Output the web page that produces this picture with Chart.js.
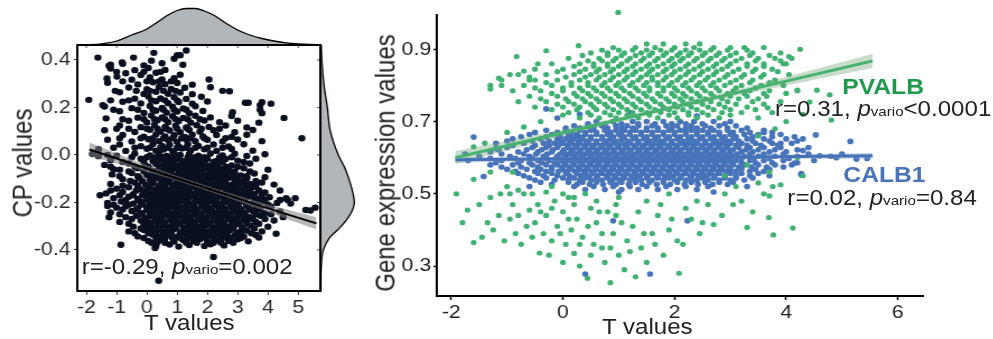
<!DOCTYPE html>
<html>
<head>
<meta charset="utf-8">
<script src="https://cdn.jsdelivr.net/npm/chart.js@4.4.1/dist/chart.umd.min.js"></script>
<style>
    html, body { margin: 0; padding: 0; background: #fff; overflow: hidden; }
    #stage { position: absolute; left: 0; top: 0; width: 887px; height: 339px; transform: scaleX(1.12); transform-origin: 0 0; font-family: "Liberation Sans", Arial, sans-serif; color: #222; }
    canvas { position: absolute; }
    .t { position: absolute; white-space: nowrap; line-height: 1; }
    .ann { font-size: 21.5px; color: #222; }
    .s { font-size: 13.5px; }
    .lab { font-size: 22px; font-weight: bold; }
    .ttl { font-size: 21.5px; color: #222; transform: translateX(-50%); }
    .rot { font-size: 24px; color: #222; transform: translate(-50%, -50%) rotate(-90deg); }
</style>
</head>
<body>
<div id="stage">
    <canvas id="topDens" width="217" height="45" style="left:69px;top:0"></canvas>
    <canvas id="sideDens" width="38" height="246" style="left:286px;top:45px"></canvas>
    <canvas id="cpChart" width="300" height="339" style="left:0;top:0"></canvas>
    <canvas id="geneChart" width="561" height="339" style="left:326px;top:0"></canvas>

    <div class="t rot" style="left:20px;top:163px">CP values</div>
    <div class="t ttl" style="left:169px;top:313px">T values</div>
    <div class="t ann" style="left:73px;top:257px">r=-0.29, <i>p</i><span class="s">vario</span>=0.002</div>

    <div class="t rot" style="left:344px;top:163px">Gene expression values</div>
    <div class="t ttl" style="left:578px;top:317px">T values</div>
    <div class="t lab" style="left:752px;top:76px;color:#1f9a4b">PVALB</div>
    <div class="t ann" style="left:692px;top:99px">r=0.31, <i>p</i><span class="s">vario</span>&lt;0.0001</div>
    <div class="t lab" style="left:753px;top:164px;color:#4a74b9">CALB1</div>
    <div class="t ann" style="left:703px;top:188px">r=0.02, <i>p</i><span class="s">vario</span>=0.84</div>
</div>
<script>
// left panel: T values vs CP values
const tTicks = [-2, -1, 0, 1, 2, 3, 4, 5];
const cpTicks = [-0.4, -0.2, 0, 0.2, 0.4];

const cpPoints = [
    [0.3,-0.384],[0.75,-0.377],[1.05,-0.386],[1.4,-0.379],[1.9,-0.383],[2.1,-0.376],[2.55,-0.381],[-0.86,-0.378],[0.27,-0.392],
    [0.05,-0.362],[0.5,-0.356],[0.9,-0.365],[1.2,-0.358],[1.55,-0.363],[1.75,-0.355],[2.0,-0.366],[2.3,-0.359],[2.7,-0.362],[3.0,-0.355],[3.35,-0.364],[0.35,-0.368],
    [-0.3,-0.343],[0.2,-0.336],[0.45,-0.345],[0.7,-0.338],[1.0,-0.344],[1.3,-0.335],[1.5,-0.346],[1.85,-0.339],[2.15,-0.342],[2.4,-0.336],[2.6,-0.345],[2.9,-0.338],[3.2,-0.343],[3.6,-0.337],[3.7,-0.348],[4.27,-0.332],
    [-0.6,-0.322],[-0.1,-0.316],[0.15,-0.325],[0.35,-0.318],[0.6,-0.324],[0.85,-0.315],[1.1,-0.326],[1.35,-0.319],[1.6,-0.323],[1.8,-0.316],[2.05,-0.325],[2.3,-0.317],[2.5,-0.324],[2.75,-0.316],[3.0,-0.326],[3.3,-0.318],[3.8,-0.322],
    [-0.45,-0.302],[0.0,-0.296],[0.25,-0.305],[0.5,-0.298],[0.75,-0.304],[0.95,-0.295],[1.2,-0.306],[1.45,-0.299],[1.7,-0.303],[1.95,-0.296],[2.2,-0.305],[2.45,-0.297],[2.65,-0.304],[2.9,-0.296],[3.15,-0.306],[3.45,-0.298],[4.0,-0.302],
    [-0.9,-0.282],[-0.2,-0.276],[0.1,-0.285],[0.35,-0.278],[0.6,-0.284],[0.85,-0.275],[1.05,-0.286],[1.3,-0.279],[1.55,-0.283],[1.8,-0.276],[2.05,-0.285],[2.3,-0.277],[2.55,-0.284],[2.8,-0.276],[3.05,-0.286],[3.3,-0.278],[3.6,-0.282],[4.2,-0.276],[4.5,-0.262],
    [-0.7,-0.262],[-0.35,-0.256],[0.0,-0.265],[0.2,-0.258],[0.45,-0.264],[0.7,-0.255],[0.95,-0.266],[1.15,-0.259],[1.4,-0.263],[1.65,-0.256],[1.9,-0.265],[2.15,-0.257],[2.4,-0.264],[2.6,-0.256],[2.85,-0.266],[3.1,-0.258],[3.4,-0.262],[3.75,-0.256],[-1.25,-0.262],
    [-1.2,-0.242],[-0.5,-0.236],[-0.15,-0.245],[0.1,-0.238],[0.35,-0.244],[0.55,-0.235],[0.8,-0.246],[1.05,-0.239],[1.3,-0.243],[1.5,-0.236],[1.75,-0.245],[2.0,-0.237],[2.25,-0.244],[2.5,-0.236],[2.7,-0.246],[2.95,-0.238],[3.2,-0.242],[3.5,-0.236],[3.9,-0.245],[4.4,-0.238],
    [-1.0,-0.222],[-0.7,-0.216],[-0.3,-0.225],[0.0,-0.218],[0.25,-0.224],[0.45,-0.215],[0.7,-0.226],[0.9,-0.219],[1.15,-0.223],[1.4,-0.216],[1.6,-0.225],[1.85,-0.217],[2.1,-0.224],[2.35,-0.216],[2.55,-0.226],[2.8,-0.218],[3.05,-0.222],[3.3,-0.216],[3.6,-0.225],[4.1,-0.218],[4.75,-0.205],[5.56,-0.222],[5.25,-0.232],[5.4,-0.234],[-1.3,-0.215],
    [-1.3,-0.202],[-0.85,-0.196],[-0.45,-0.205],[-0.15,-0.198],[0.1,-0.204],[0.35,-0.195],[0.6,-0.206],[0.8,-0.199],[1.05,-0.203],[1.25,-0.196],[1.5,-0.205],[1.75,-0.197],[1.95,-0.204],[2.2,-0.196],[2.45,-0.206],[2.7,-0.198],[2.9,-0.202],[3.15,-0.196],[3.45,-0.205],[3.8,-0.198],[4.3,-0.202],[4.9,-0.182],[4.65,-0.19],
    [-1.1,-0.182],[-0.6,-0.176],[-0.3,-0.185],[0.0,-0.178],[0.2,-0.184],[0.45,-0.175],[0.7,-0.186],[0.95,-0.179],[1.2,-0.183],[1.4,-0.176],[1.65,-0.185],[1.9,-0.177],[2.1,-0.184],[2.35,-0.176],[2.6,-0.186],[2.85,-0.178],[3.05,-0.182],[3.35,-0.176],[3.7,-0.185],[4.05,-0.178],[4.6,-0.182],[-1.55,-0.17],
    [-1.35,-0.162],[-0.8,-0.156],[-0.45,-0.165],[-0.1,-0.158],[0.15,-0.164],[0.4,-0.155],[0.6,-0.166],[0.85,-0.159],[1.1,-0.163],[1.3,-0.156],[1.55,-0.165],[1.8,-0.157],[2.0,-0.164],[2.25,-0.156],[2.5,-0.166],[2.75,-0.158],[3.0,-0.162],[3.25,-0.156],[3.55,-0.165],[3.9,-0.158],
    [-1.0,-0.142],[-0.6,-0.136],[-0.2,-0.145],[0.05,-0.138],[0.3,-0.144],[0.55,-0.135],[0.75,-0.146],[1.0,-0.139],[1.25,-0.143],[1.45,-0.136],[1.7,-0.145],[1.95,-0.137],[2.15,-0.144],[2.4,-0.136],[2.65,-0.146],[2.9,-0.138],[3.2,-0.142],[3.5,-0.136],[4.2,-0.125],
    [-1.2,-0.122],[-0.4,-0.116],[-0.05,-0.125],[0.2,-0.118],[0.45,-0.124],[0.7,-0.115],[0.9,-0.126],[1.15,-0.119],[1.4,-0.123],[1.6,-0.116],[1.85,-0.125],[2.1,-0.117],[2.3,-0.124],[2.55,-0.116],[2.8,-0.126],[3.1,-0.118],[3.4,-0.122],[3.8,-0.116],
    [-0.8,-0.102],[-0.25,-0.096],[0.1,-0.105],[0.35,-0.098],[0.6,-0.104],[0.8,-0.095],[1.05,-0.106],[1.3,-0.099],[1.55,-0.103],[1.75,-0.096],[2.0,-0.105],[2.25,-0.097],[2.5,-0.104],[2.7,-0.096],[3.0,-0.106],[3.3,-0.098],[3.9,-0.094],
    [-1.15,-0.082],[-0.5,-0.076],[0.0,-0.085],[0.25,-0.078],[0.5,-0.084],[0.75,-0.075],[1.0,-0.086],[1.2,-0.079],[1.45,-0.083],[1.7,-0.076],[1.95,-0.085],[2.2,-0.077],[2.45,-0.084],[2.75,-0.076],[3.1,-0.086],[3.55,-0.078],
    [-0.9,-0.062],[-0.3,-0.056],[0.15,-0.065],[0.4,-0.058],[0.65,-0.064],[0.9,-0.055],[1.15,-0.066],[1.4,-0.059],[1.65,-0.063],[1.9,-0.056],[2.15,-0.065],[2.4,-0.057],[2.7,-0.064],[3.2,-0.056],[4.0,-0.062],
    [-1.4,-0.042],[-0.6,-0.036],[-0.05,-0.045],[0.3,-0.038],[0.55,-0.044],[0.8,-0.035],[1.05,-0.046],[1.3,-0.039],[1.55,-0.043],[1.8,-0.036],[2.05,-0.045],[2.35,-0.037],[2.8,-0.044],[3.4,-0.036],[-1.1,-0.06],
    [-1.2,-0.022],[-0.2,-0.016],[0.2,-0.025],[0.45,-0.018],[0.7,-0.024],[1.0,-0.015],[1.2,-0.026],[1.5,-0.019],[1.75,-0.023],[2.0,-0.016],[2.3,-0.025],[2.6,-0.017],[3.0,-0.024],[3.6,-0.016],[-1.6,-0.005],
    [-1.8,0.004],[-1.0,-0.003],[-0.4,0.006],[0.1,-0.002],[0.4,0.005],[0.65,-0.004],[0.9,0.007],[1.1,0.0],[1.4,0.004],[1.7,-0.003],[2.1,0.006],[2.5,-0.002],[2.9,0.005],[3.3,-0.004],[3.9,0.003],[-1.3,0.0],
    [-1.6,0.024],[-0.7,0.017],[0.0,0.026],[0.3,0.018],[0.55,0.023],[0.85,0.016],[1.15,0.027],[1.45,0.019],[1.9,0.024],[2.3,0.017],[2.8,0.025],[3.5,0.018],
    [-0.9,0.044],[-0.2,0.037],[0.2,0.046],[0.5,0.038],[0.75,0.043],[1.05,0.036],[1.35,0.045],[1.7,0.038],[2.2,0.044],[2.7,0.036],[3.2,0.045],
    [-1.3,0.064],[-0.5,0.057],[0.05,0.066],[0.4,0.058],[0.7,0.063],[1.0,0.056],[1.3,0.065],[1.6,0.058],[2.0,0.064],[2.5,0.057],[3.0,0.065],[3.8,0.058],[5.12,0.07],
    [-0.8,0.084],[-0.1,0.077],[0.3,0.086],[0.6,0.078],[0.9,0.083],[1.25,0.076],[1.5,0.085],[1.85,0.078],[2.3,0.084],[2.8,0.076],[3.3,0.085],
    [-1.4,0.104],[-0.4,0.097],[0.1,0.106],[0.45,0.098],[0.75,0.103],[1.1,0.096],[1.4,0.105],[1.75,0.098],[2.2,0.104],[2.9,0.096],[3.5,0.105],
    [-0.9,0.124],[-0.2,0.117],[0.25,0.126],[0.6,0.118],[0.95,0.123],[1.3,0.116],[1.65,0.125],[2.05,0.118],[2.6,0.124],[3.3,0.116],
    [-0.6,0.144],[0.0,0.137],[0.35,0.146],[0.7,0.138],[1.05,0.143],[1.45,0.136],[1.9,0.145],[2.4,0.138],[3.0,0.144],[3.7,0.136],
    [-1.35,0.154],[-0.3,0.157],[0.15,0.166],[0.5,0.158],[0.85,0.163],[1.2,0.156],[1.6,0.165],[2.1,0.158],[2.8,0.164],[4.53,0.156],
    [-0.9,0.184],[-0.1,0.177],[0.3,0.186],[0.65,0.178],[1.0,0.183],[1.4,0.176],[1.85,0.185],[2.83,0.18],[3.74,0.19],[3.8,0.176],
    [-1.4,0.204],[-0.5,0.197],[0.1,0.206],[0.5,0.198],[0.85,0.203],[1.2,0.196],[1.6,0.205],[3.74,0.21],[4.1,0.216],
    [-0.8,0.224],[-0.2,0.217],[0.3,0.226],[0.7,0.218],[1.05,0.223],[1.5,0.216],[2.0,0.225],[3.25,0.22],[3.35,0.22],[3.8,0.222],[-1.46,0.21],
    [-1.92,0.232],[-0.4,0.237],[0.05,0.246],[0.45,0.238],[0.9,0.243],[1.3,0.236],[1.8,0.245],
    [-0.9,0.264],[-0.1,0.257],[0.3,0.266],[0.7,0.258],[1.1,0.263],[1.5,0.256],[2.5,0.27],[2.73,0.268],
    [-0.6,0.284],[0.0,0.277],[0.4,0.286],[0.8,0.278],[1.25,0.283],[2.1,0.285],
    [-1.3,0.304],[-0.3,0.297],[0.2,0.306],[0.6,0.298],[1.0,0.303],[1.5,0.296],
    [-1.32,0.322],[-0.5,0.317],[0.1,0.326],[0.5,0.318],[0.9,0.323],[2.05,0.318],
    [-0.7,0.344],[-0.2,0.337],[0.3,0.346],[1.1,0.338],[-0.99,0.33],
    [-1.2,0.364],[-0.4,0.357],[0.05,0.366],[0.6,0.358],
    [-0.8,0.384],[-0.1,0.377],[0.5,0.386],[1.19,0.38],[-1.25,0.376],[-0.82,0.39],
    [-0.44,0.41],[0.15,0.397],[0.9,0.405],[-1.2,0.38],
    [-1.62,0.41],[0.23,0.43],[1.0,0.42],[1.3,0.44],[1.1,0.42],
    [2.2,-0.43],[0.39,-0.53]
];
// the packed middle of the cloud, one CP level per row
const cpCoreRows = [
    [-0.37, [0.15, 0.6, 1.3, 1.65, 2.2, 2.45, 2.85]],
    [-0.35, [-0.1, 0.3, 0.6, 0.85, 1.1, 1.4, 1.65, 1.95, 2.2, 2.5, 2.8, 3.1]],
    [-0.33, [-0.4, 0.05, 0.3, 0.55, 0.8, 1.15, 1.45, 1.7, 1.95, 2.2, 2.45, 2.65, 3.1, 3.45]],
    [-0.31, [-0.2, 0.05, 0.3, 0.45, 0.7, 0.95, 1.25, 1.5, 1.7, 1.9, 2.15, 2.4, 2.6, 2.85, 3.15, 3.55]],
    [-0.29, [-0.6, -0.1, 0.15, 0.4, 0.6, 0.85, 1.1, 1.35, 1.6, 1.85, 2.1, 2.35, 2.55, 2.8, 3.05, 3.3, 3.7]],
    [-0.27, [-0.5, -0.05, 0.25, 0.5, 0.75, 0.95, 1.2, 1.45, 1.7, 1.95, 2.2, 2.45, 2.7, 2.95, 3.2, 3.5, 3.9]],
    [-0.25, [-0.9, -0.2, 0.1, 0.35, 0.55, 0.85, 1.05, 1.3, 1.55, 1.8, 2.05, 2.3, 2.5, 2.75, 3.0, 3.25, 3.6, 4.1]],
    [-0.23, [-0.8, -0.35, 0.0, 0.2, 0.45, 0.7, 0.95, 1.2, 1.4, 1.65, 1.9, 2.15, 2.4, 2.6, 2.85, 3.1, 3.4, 3.75]],
    [-0.21, [-1.1, -0.6, -0.2, 0.15, 0.35, 0.55, 0.8, 1.0, 1.3, 1.55, 1.8, 2.0, 2.25, 2.5, 2.75, 3.0, 3.3, 3.6, 4.0]],
    [-0.19, [-0.7, -0.3, 0.05, 0.25, 0.5, 0.75, 0.95, 1.15, 1.35, 1.6, 1.85, 2.05, 2.3, 2.55, 2.75, 3.0, 3.25, 3.55, 3.9, 4.4]],
    [-0.17, [-0.9, -0.45, -0.15, 0.1, 0.35, 0.55, 0.8, 1.0, 1.25, 1.5, 1.75, 1.95, 2.2, 2.45, 2.65, 2.95, 3.2, 3.45, 3.8]],
    [-0.15, [-1.2, -0.35, 0.0, 0.25, 0.5, 0.7, 0.95, 1.2, 1.4, 1.65, 1.85, 2.1, 2.35, 2.6, 2.85, 3.1, 3.4, 3.7, 4.4]],
    [-0.13, [-0.8, -0.3, 0.1, 0.4, 0.6, 0.85, 1.1, 1.3, 1.55, 1.8, 2.0, 2.25, 2.5, 2.7, 3.0, 3.3, 3.6]],
    [-0.11, [-0.55, -0.15, 0.2, 0.5, 0.75, 1.0, 1.2, 1.45, 1.7, 1.9, 2.15, 2.4, 2.6, 2.9, 3.2, 3.6]],
    [-0.09, [-0.9, -0.3, 0.15, 0.4, 0.65, 0.9, 1.1, 1.35, 1.6, 1.85, 2.1, 2.35, 2.6, 2.9, 3.3]],
    [-0.07, [-0.6, -0.1, 0.3, 0.55, 0.8, 1.05, 1.3, 1.55, 1.8, 2.05, 2.3, 2.55, 2.9, 3.4]],
    [-0.05, [-1.2, -0.4, 0.05, 0.45, 0.7, 0.95, 1.2, 1.45, 1.7, 1.95, 2.2, 2.6, 3.0]],
    [-0.03, [-0.8, -0.1, 0.35, 0.6, 0.9, 1.15, 1.4, 1.65, 1.9, 2.2, 2.5, 3.2]],
    [-0.01, [-0.5, 0.0, 0.3, 0.55, 0.8, 1.05, 1.35, 1.6, 1.9, 2.4, 2.8]],
    [0.03, [-1.1, -0.4, 0.1, 0.45, 0.7, 1.0, 1.3, 1.6, 2.0, 2.5]],
    [0.07, [-0.9, -0.2, 0.2, 0.55, 0.85, 1.15, 1.45, 1.9, 2.6]],
    [0.11, [-1.0, -0.6, 0.0, 0.35, 0.65, 1.0, 1.35, 1.8, 2.4]],
    [0.15, [-0.8, -0.1, 0.25, 0.6, 0.95, 1.35, 1.75]],
    [0.19, [-1.1, -0.3, 0.2, 0.55, 0.9, 1.3]],
    [0.23, [-1.2, -0.6, 0.15, 0.6, 1.0]],
    [0.27, [-1.05, -0.35, 0.1, 0.55, 0.95]],
    [0.31, [-0.8, 0.0, 0.4, 0.8]],
    [0.35, [-1.0, -0.1, 0.45]]
];

const cpFitT = [-1.9, -0.5, 1.0, 2.5, 4.0, 5.6];
const cpFit = [0.023, -0.036, -0.099, -0.162, -0.225, -0.288];
const cpFitHi = [0.052, -0.019, -0.089, -0.152, -0.209, -0.262];
const cpFitLo = [-0.006, -0.053, -0.109, -0.172, -0.241, -0.314];

// marginal densities (heights in pixels above the box edge)
const topDensT = [-2.3, -1.9, -1.5, -1.0, -0.5, 0.0, 0.4, 0.7, 1.0, 1.3, 1.6, 1.9, 2.2, 2.6, 3.0, 3.4, 3.8, 4.2, 4.6, 5.0, 5.4, 5.73];
const topDensH = [0, 0.3, 1.2, 4, 10, 16, 24, 30, 34.5, 36.5, 36.5, 34, 30, 22, 15, 10, 6.5, 4, 2.2, 1.2, 0.6, 0.3];
const sideDensCP = [-0.573, -0.5, -0.45, -0.4, -0.35, -0.3, -0.25, -0.2, -0.15, -0.1, -0.05, 0.0, 0.1, 0.2, 0.3, 0.4, 0.463];
const sideDensW = [0, 0.4, 1.2, 3, 9, 21, 30, 34, 32, 28.5, 24, 18, 10, 7, 3.5, 1.5, 0.8];

// right panel: T values vs gene expression
const geneTTicks = [-2, 0, 2, 4, 6];
const geneTicks = [0.3, 0.5, 0.7, 0.9];

const calb1Rows = [
    [0.700, [0.6, 0.9, 1.25, 1.5, 1.8, 2.1, 2.35, 2.7]],
    [0.694, [0.45, 0.75, 1.05, 1.35, 1.65, 1.95, 2.2, 2.5, 2.9]],
    [0.688, [0.2, 0.45, 0.7, 0.95, 1.15, 1.35, 1.6, 1.85, 2.05, 2.3, 2.55, 2.8, 3.1]],
    [0.682, [0.05, 0.3, 0.55, 0.8, 1.05, 1.25, 1.5, 1.7, 1.95, 2.2, 2.4, 2.65, 2.95, 3.3]],
    [0.676, [-0.3, 0.05, 0.3, 0.5, 0.75, 0.95, 1.1, 1.3, 1.5, 1.7, 1.9, 2.1, 2.3, 2.5, 2.7, 2.95, 3.2, 3.6]],
    [0.670, [-0.5, -0.1, 0.15, 0.4, 0.6, 0.85, 1.05, 1.2, 1.4, 1.6, 1.8, 2.0, 2.2, 2.4, 2.6, 2.8, 3.05, 3.35, 3.75]],
    [0.664, [-0.6, -0.2, 0.1, 0.25, 0.4, 0.6, 0.8, 1.0, 1.2, 1.4, 1.6, 1.8, 2.0, 2.2, 2.4, 2.6, 2.8, 3.0, 3.25, 3.5, 3.9]],
    [0.658, [-0.75, -0.3, -0.05, 0.15, 0.3, 0.5, 0.7, 0.9, 1.1, 1.3, 1.5, 1.7, 1.9, 2.1, 2.3, 2.5, 2.7, 2.9, 3.1, 3.4, 3.75, 4.15]],
    [0.652, [-0.9, -0.4, -0.1, 0.05, 0.2, 0.35, 0.5, 0.7, 0.85, 1.05, 1.25, 1.45, 1.65, 1.85, 2.05, 2.25, 2.45, 2.65, 2.85, 3.05, 3.3, 3.6, 4.0, 4.3]],
    [0.646, [-1.0, -0.55, -0.25, -0.05, 0.12, 0.28, 0.42, 0.6, 0.78, 0.95, 1.15, 1.35, 1.55, 1.75, 1.95, 2.15, 2.35, 2.55, 2.75, 2.95, 3.15, 3.4, 3.7, 4.2]],
    [0.640, [-1.2, -0.7, -0.35, -0.15, 0.0, 0.15, 0.3, 0.45, 0.6, 0.75, 0.9, 1.05, 1.2, 1.35, 1.5, 1.65, 1.8, 1.95, 2.1, 2.25, 2.4, 2.55, 2.7, 2.85, 3.0, 3.2, 3.45, 3.75, 4.1]],
    [0.634, [-0.9, -0.5, -0.25, -0.08, 0.08, 0.22, 0.38, 0.52, 0.68, 0.82, 0.98, 1.12, 1.28, 1.42, 1.58, 1.72, 1.88, 2.02, 2.18, 2.32, 2.48, 2.62, 2.78, 2.92, 3.1, 3.3, 3.55, 3.85]],
    [0.628, [-1.0, -0.55, -0.3, -0.1, 0.1, 0.25, 0.4, 0.55, 0.7, 0.85, 1.0, 1.15, 1.3, 1.45, 1.6, 1.75, 1.9, 2.05, 2.2, 2.35, 2.5, 2.65, 2.8, 2.95, 3.15, 3.35, 3.6, 3.9, 4.4]],
    [0.622, [-1.15, -0.65, -0.38, -0.18, 0.02, 0.18, 0.32, 0.48, 0.62, 0.78, 0.92, 1.08, 1.22, 1.38, 1.52, 1.68, 1.82, 1.98, 2.12, 2.28, 2.42, 2.58, 2.72, 2.88, 3.05, 3.28, 3.5, 3.8, 4.2]],
    [0.616, [-1.3, -0.8, -0.45, -0.2, 0.0, 0.15, 0.3, 0.45, 0.6, 0.75, 0.9, 1.05, 1.2, 1.35, 1.5, 1.65, 1.8, 1.95, 2.1, 2.25, 2.4, 2.55, 2.7, 2.85, 3.0, 3.2, 3.4, 3.7, 4.0]],
    [0.610, [-1.1, -0.7, -0.48, -0.28, -0.05, 0.1, 0.25, 0.4, 0.55, 0.7, 0.85, 1.0, 1.15, 1.3, 1.45, 1.6, 1.75, 1.9, 2.05, 2.2, 2.35, 2.5, 2.65, 2.8, 2.95, 3.12, 3.35, 3.6, 3.95, 4.4]],
    [0.604, [-1.5, -0.95, -0.6, -0.35, -0.1, 0.05, 0.2, 0.35, 0.5, 0.65, 0.8, 0.95, 1.1, 1.25, 1.4, 1.55, 1.7, 1.85, 2.0, 2.15, 2.3, 2.45, 2.6, 2.75, 2.9, 3.05, 3.25, 3.5, 3.8, 4.2, 4.8]],
    [0.598, [-1.3, -0.85, -0.55, -0.3, -0.12, 0.02, 0.18, 0.32, 0.48, 0.62, 0.78, 0.92, 1.08, 1.22, 1.38, 1.52, 1.68, 1.82, 1.98, 2.12, 2.28, 2.42, 2.58, 2.72, 2.88, 3.0, 3.2, 3.42, 3.7, 4.05]],
    [0.592, [-1.7, -1.1, -0.75, -0.45, -0.25, -0.05, 0.1, 0.25, 0.4, 0.55, 0.7, 0.85, 1.0, 1.15, 1.3, 1.45, 1.6, 1.75, 1.9, 2.05, 2.2, 2.35, 2.5, 2.65, 2.8, 2.95, 3.1, 3.35, 3.6, 3.95, 4.5]],
    [0.586, [-1.2, -0.8, -0.6, -0.38, -0.15, 0.02, 0.18, 0.32, 0.48, 0.62, 0.78, 0.92, 1.08, 1.22, 1.38, 1.52, 1.68, 1.82, 1.98, 2.12, 2.28, 2.42, 2.58, 2.72, 2.88, 3.02, 3.2, 3.45, 3.75, 4.2]],
    [0.580, [-1.3, -0.9, -0.55, -0.3, -0.1, 0.05, 0.2, 0.35, 0.5, 0.65, 0.8, 0.95, 1.1, 1.25, 1.4, 1.55, 1.7, 1.85, 2.0, 2.15, 2.3, 2.45, 2.6, 2.75, 2.9, 3.05, 3.25, 3.5, 3.8, 4.1]],
    [0.574, [-1.1, -0.75, -0.45, -0.2, -0.02, 0.12, 0.28, 0.42, 0.58, 0.72, 0.88, 1.02, 1.18, 1.32, 1.48, 1.62, 1.78, 1.92, 2.08, 2.22, 2.38, 2.52, 2.68, 2.82, 2.98, 3.15, 3.38, 3.65, 3.95]],
    [0.568, [-1.0, -0.65, -0.4, -0.2, 0.0, 0.15, 0.3, 0.45, 0.6, 0.75, 0.9, 1.05, 1.2, 1.35, 1.5, 1.65, 1.8, 1.95, 2.1, 2.25, 2.4, 2.55, 2.7, 2.85, 3.0, 3.2, 3.45, 3.7]],
    [0.562, [-0.85, -0.5, -0.3, -0.08, 0.08, 0.22, 0.38, 0.52, 0.68, 0.82, 0.98, 1.12, 1.28, 1.42, 1.58, 1.72, 1.88, 2.02, 2.18, 2.32, 2.48, 2.62, 2.78, 2.92, 3.1, 3.35, 3.6]],
    [0.556, [-0.8, -0.45, -0.2, 0.05, 0.25, 0.4, 0.55, 0.7, 0.85, 1.0, 1.15, 1.3, 1.45, 1.6, 1.75, 1.9, 2.05, 2.2, 2.35, 2.5, 2.65, 2.8, 3.0, 3.2, 3.5, 4.27]],
    [0.550, [-0.7, -0.35, -0.1, 0.12, 0.32, 0.48, 0.62, 0.78, 0.92, 1.08, 1.22, 1.38, 1.52, 1.68, 1.82, 1.98, 2.12, 2.28, 2.42, 2.58, 2.72, 2.9, 3.1, 3.35, 3.7]],
    [0.544, [-0.6, -0.3, 0.0, 0.2, 0.4, 0.6, 0.8, 0.95, 1.1, 1.3, 1.5, 1.7, 1.9, 2.1, 2.3, 2.5, 2.7, 2.9, 3.1, 3.4]],
    [0.538, [-0.5, -0.15, 0.1, 0.3, 0.5, 0.7, 0.88, 1.02, 1.2, 1.4, 1.6, 1.8, 2.0, 2.2, 2.4, 2.6, 2.8, 3.0, 3.25]],
    [0.532, [-0.4, 0.1, 0.35, 0.6, 0.85, 1.05, 1.3, 1.55, 1.8, 2.05, 2.3, 2.55, 2.8, 3.05]],
    [0.526, [-0.2, 0.25, 0.48, 0.72, 0.95, 1.18, 1.42, 1.68, 1.92, 2.18, 2.42, 2.68, 2.95]],
    [0.520, [0.2, 0.55, 0.9, 1.2, 1.5, 1.85, 2.2, 2.6]],
    [0.512, [0.4, 0.75, 1.05, 1.35, 1.7, 2.05, 2.4]]
];
const calb1Extra = [
    [-1.6,0.657],[-0.3,0.735],[4.53,0.663],[5.15,0.645],[5.26,0.596],[5.45,0.598],[4.27,0.553],[4.15,0.585],[0.9,0.425],[2.23,0.425],
    [1.56,0.278],[0.4,0.278],[-1.42,0.548],[-1.75,0.61],[-1.2,0.625],[3.6,0.67],[3.9,0.64],[4.3,0.62],[4.6,0.605],[4.9,0.6],
    [5.0,0.61],[-0.1,0.71],[0.3,0.72],[1.2,0.725],[2.4,0.715],[3.0,0.7],[1.0,0.505],[2.7,0.505],[-0.6,0.52],[3.3,0.52]
];

const pvalbRows = [
    [0.915, [1.5, 1.8, 2.2, 2.45]],
    [0.905, [0.9, 1.3, 1.65, 2.0, 2.35, 2.7, 3.0, 3.25, 3.6]],
    [0.898, [0.7, 1.0, 1.25, 1.5, 1.75, 1.95, 2.2, 2.45, 2.65, 2.95, 3.3]],
    [0.890, [0.5, 0.8, 1.1, 1.4, 1.6, 1.85, 2.1, 2.3, 2.55, 2.8, 3.1, 3.4, 3.9]],
    [0.883, [0.35, 0.8, 1.05, 1.3, 1.55, 1.8, 2.05, 2.25, 2.5, 2.75, 3.0, 3.35, 3.7]],
    [0.875, [0.1, 0.65, 0.95, 1.2, 1.45, 1.7, 1.95, 2.15, 2.4, 2.65, 2.9, 3.2, 3.5, 3.8, 4.1]],
    [0.868, [0.45, 0.7, 0.9, 1.15, 1.4, 1.65, 1.9, 2.1, 2.35, 2.6, 2.85, 3.1, 3.45, 3.9]],
    [0.860, [-0.2, 0.3, 0.55, 0.8, 1.05, 1.3, 1.55, 1.8, 2.0, 2.25, 2.5, 2.75, 3.0, 3.3, 3.6, 4.0]],
    [0.853, [0.2, 0.55, 0.8, 1.0, 1.25, 1.5, 1.7, 1.95, 2.2, 2.45, 2.7, 2.95, 3.3, 3.6]],
    [0.845, [-0.5, 0.0, 0.4, 0.65, 0.9, 1.15, 1.4, 1.6, 1.85, 2.1, 2.35, 2.6, 2.85, 3.15, 3.45, 3.75]],
    [0.838, [-0.1, 0.3, 0.6, 0.85, 1.1, 1.3, 1.55, 1.8, 2.0, 2.25, 2.5, 2.75, 3.05, 3.4, 3.85]],
    [0.830, [-0.8, -0.3, 0.2, 0.5, 0.75, 1.0, 1.25, 1.5, 1.7, 1.95, 2.2, 2.45, 2.7, 2.95, 3.25, 3.6, 4.05]],
    [0.823, [-0.6, 0.05, 0.4, 0.65, 0.9, 1.15, 1.4, 1.6, 1.85, 2.1, 2.35, 2.6, 2.9, 3.2, 3.55]],
    [0.815, [-1.1, -0.5, -0.1, 0.3, 0.6, 0.85, 1.1, 1.35, 1.6, 1.8, 2.05, 2.3, 2.55, 2.8, 3.1, 3.4, 3.8]],
    [0.808, [-0.3, 0.15, 0.45, 0.75, 1.0, 1.25, 1.5, 1.7, 1.95, 2.2, 2.45, 2.7, 3.0, 3.35, 3.7]],
    [0.800, [-1.3, -0.7, -0.2, 0.15, 0.45, 0.7, 0.95, 1.2, 1.45, 1.7, 1.9, 2.15, 2.4, 2.65, 2.9, 3.2, 3.55, 3.95]],
    [0.793, [-0.5, 0.0, 0.3, 0.55, 0.8, 1.05, 1.3, 1.55, 1.8, 2.0, 2.25, 2.5, 2.75, 3.1, 3.45]],
    [0.785, [-0.9, -0.4, 0.0, 0.35, 0.6, 0.85, 1.1, 1.35, 1.55, 1.8, 2.05, 2.3, 2.55, 2.8, 3.05, 3.35, 3.7, 4.2]],
    [0.778, [-0.2, 0.2, 0.45, 0.7, 0.95, 1.2, 1.45, 1.7, 1.95, 2.15, 2.4, 2.65, 2.95, 3.25, 3.6, 4.0]],
    [0.770, [-0.6, -0.1, 0.25, 0.5, 0.75, 1.0, 1.25, 1.5, 1.75, 2.0, 2.2, 2.45, 2.7, 3.0, 3.3, 3.65]],
    [0.763, [-0.4, 0.05, 0.35, 0.6, 0.85, 1.1, 1.35, 1.6, 1.85, 2.1, 2.3, 2.55, 2.85, 3.15, 3.5]],
    [0.755, [-0.8, -0.3, 0.1, 0.4, 0.65, 0.9, 1.15, 1.4, 1.65, 1.9, 2.15, 2.4, 2.65, 2.95, 3.4, 3.9]],
    [0.748, [-0.1, 0.2, 0.5, 0.75, 1.0, 1.25, 1.5, 1.75, 2.0, 2.25, 2.5, 2.8, 3.1, 3.6]],
    [0.740, [-0.5, 0.0, 0.3, 0.55, 0.8, 1.05, 1.3, 1.55, 1.8, 2.05, 2.3, 2.6, 2.9, 3.3]],
    [0.733, [-0.2, 0.25, 0.6, 0.9, 1.15, 1.4, 1.65, 1.9, 2.15, 2.4, 2.7, 3.0, 3.45]],
    [0.725, [0.1, 0.45, 0.75, 1.0, 1.25, 1.5, 1.75, 2.0, 2.25, 2.5, 2.85, 3.2, 3.75]],
    [0.718, [0.0, 0.5, 0.85, 1.15, 1.55, 1.9, 2.25, 2.6, 3.0]],
    [0.710, [0.3, 0.65, 0.95, 1.35, 1.7, 2.05, 2.4, 2.8, 3.5]]
];
const pvalbExtra = [
    [0.99,1.002],[0.28,0.91],[-0.3,0.896],[-0.83,0.88],[4.25,0.9],[4.05,0.88],[3.95,0.86],[-1.3,0.79],[-1.15,0.82],[-1.1,0.8],
    [-0.95,0.83],[-0.7,0.84],[-0.45,0.86],[-0.6,0.815],
    [-1.91,0.5],[-1.71,0.455],[-1.6,0.365],[-1.35,0.42],[-1.25,0.4],[-1.15,0.44],[-1.12,0.5],[-0.9,0.47],[-0.95,0.43],[-0.85,0.39],
    [-0.75,0.36],[-0.7,0.5],[-0.6,0.455],[-0.5,0.42],[-0.45,0.47],[-0.42,0.336],[-0.35,0.39],[-0.3,0.44],[-0.2,0.37],[-0.15,0.48],
    [-0.1,0.41],[0.0,0.45],[0.0,0.31],[0.05,0.36],[0.1,0.49],[0.15,0.4],[0.2,0.335],[0.25,0.43],[0.3,0.3],[0.35,0.38],
    [0.44,0.266],[0.5,0.46],[0.55,0.36],[0.6,0.42],[0.7,0.35],[0.75,0.31],[0.8,0.45],[0.85,0.254],[0.9,0.39],[0.95,0.44],
    [1.0,0.33],[1.1,0.29],[1.15,0.37],[1.25,0.41],[1.3,0.27],[1.4,0.35],[1.5,0.31],[1.6,0.39],[1.7,0.44],[1.8,0.33],
    [1.9,0.4],[2.08,0.28],[2.15,0.36],[2.3,0.43],[2.5,0.42],[2.7,0.415],[3.3,0.407],[3.69,0.434],[3.77,0.386],[4.12,0.405],
    [-1.0,0.52],[-0.8,0.51],[-0.55,0.5],[-0.3,0.505],[-0.2,0.52],[0.0,0.5],[0.2,0.49],[0.4,0.5],[0.6,0.48],[1.0,0.49],
    [1.5,0.48],[1.9,0.5],[2.4,0.48],[2.9,0.5],[3.2,0.48],[3.6,0.5],
    [-1.4,0.64],[-1.0,0.67],[-0.7,0.685],[-0.4,0.7],[-1.6,0.63],
    [4.3,0.72],[4.0,0.7],[3.8,0.68],[3.5,0.66],[4.2,0.6],[3.3,0.58],[3.7,0.56],[2.9,0.55],
    [4.55,0.787],[4.78,0.774],[4.81,0.704],[4.42,0.754],[4.2,0.787],[3.67,0.738],[3.76,0.52],[3.9,0.525],[3.7,0.494],
    [-1.8,0.42],[-1.5,0.47],[-1.45,0.38],[-1.3,0.49],[-1.05,0.37],[-0.95,0.5],[-0.8,0.44],[-0.65,0.41],[-0.55,0.38],[-0.4,0.45],
    [-0.25,0.33],[-0.2,0.46],[-0.05,0.39],[0.1,0.43],[0.2,0.47],[0.3,0.36],[0.45,0.41],[0.5,0.33],[0.65,0.45],[0.7,0.39],
    [0.85,0.35],[0.95,0.47],[1.05,0.42],[1.2,0.34],[1.35,0.45],[1.45,0.39],[1.65,0.36],[1.75,0.47],[1.95,0.43],[2.05,0.37],
    [2.2,0.46],[2.45,0.39],[2.6,0.47],[2.85,0.44],[3.05,0.47],[3.4,0.45],[-1.3,0.56],[-1.6,0.54],[-0.9,0.56],[3.5,0.53],
    [3.1,0.52],[4.3,0.55]
];

const pvalbFitT = [-1.93, 0, 1.5, 3, 4.5, 5.55];
const pvalbFit = [0.600, 0.669, 0.723, 0.776, 0.830, 0.868];
const pvalbHi = [0.618, 0.678, 0.729, 0.784, 0.844, 0.888];
const pvalbLo = [0.582, 0.660, 0.717, 0.768, 0.816, 0.848];
const calb1FitT = [-1.93, 1.5, 5.55];
const calb1Fit = [0.594, 0.599, 0.605];
const calb1Hi = [0.602, 0.602, 0.613];
const calb1Lo = [0.586, 0.596, 0.597];

const pts = arr => arr.map(([x, y]) => ({ x, y }));
const rowPts = rows => rows.flatMap(([y, xs]) => xs.map(x => ({ x, y })));
const xy = (xs, ys) => xs.map((x, i) => ({ x, y: ys[i] }));
const fixTicks = list => scale => { scale.ticks = list.map(v => ({ value: v })); };

Chart.defaults.font.family = '"Liberation Sans", Arial, sans-serif';
Chart.defaults.animation = false;
Chart.defaults.plugins.legend.display = false;
Chart.defaults.plugins.tooltip.enabled = false;

const cpMin = -0.573, cpMax = 0.463, tMin = -2.3, tMax = 5.73;

// frame around the left panel with small inner ticks on top and right
const boxFrame = {
    id: 'boxFrame',
    afterDatasetsDraw(chart) {
        const { ctx, chartArea: a, scales } = chart;
        ctx.save();
        ctx.strokeStyle = '#555';
        ctx.lineWidth = 1;
        tTicks.forEach(v => {
            const x = scales.x.getPixelForValue(v);
            ctx.beginPath(); ctx.moveTo(x, a.top); ctx.lineTo(x, a.top + 3); ctx.stroke();
        });
        cpTicks.forEach(v => {
            const y = scales.y.getPixelForValue(v);
            ctx.beginPath(); ctx.moveTo(a.right, y); ctx.lineTo(a.right - 3, y); ctx.stroke();
        });
        ctx.strokeStyle = '#000';
        ctx.lineWidth = 2;
        ctx.strokeRect(a.left, a.top, a.right - a.left, a.bottom - a.top);
        ctx.restore();
    }
};

new Chart(document.getElementById('topDens'), {
    type: 'line',
    data: {
        datasets: [{
            data: xy(topDensT, topDensH),
            fill: 'origin',
            backgroundColor: '#b2b6b8',
            borderColor: '#000',
            borderWidth: 1.3,
            pointRadius: 0,
            cubicInterpolationMode: 'monotone'
        }]
    },
    options: {
        responsive: false,
        scales: {
            x: { type: 'linear', display: false, min: tMin, max: tMax },
            y: { display: false, min: 0, max: 45 }
        }
    }
});

new Chart(document.getElementById('sideDens'), {
    type: 'line',
    data: {
        datasets: [{
            data: xy(sideDensW, sideDensCP),
            fill: 'origin',
            backgroundColor: '#b2b6b8',
            borderColor: '#000',
            borderWidth: 1.3,
            pointRadius: 0,
            cubicInterpolationMode: 'monotone'
        }]
    },
    options: {
        responsive: false,
        indexAxis: 'y',
        scales: {
            x: { type: 'linear', display: false, min: 0, max: 42.6 },
            y: { type: 'linear', display: false, min: cpMin, max: cpMax }
        }
    }
});

new Chart(document.getElementById('cpChart'), {
    type: 'scatter',
    data: {
        datasets: [
            { type: 'line', data: xy(cpFitT, cpFitHi), fill: '+1', backgroundColor: 'rgba(125,125,125,0.55)', borderWidth: 0, pointRadius: 0, order: 1 },
            { type: 'line', data: xy(cpFitT, cpFitLo), fill: false, borderWidth: 0, pointRadius: 0, order: 1 },
            { type: 'line', data: xy(cpFitT, cpFit), fill: false, borderColor: '#000', borderWidth: 2, pointRadius: 0, order: 0 },
            { data: pts(cpPoints).concat(rowPts(cpCoreRows)), backgroundColor: '#0b1020', pointRadius: 3.2, pointBorderWidth: 0, order: 2 }
        ]
    },
    options: {
        responsive: false,
        layout: { padding: { top: 45, right: 14 } },
        scales: {
            x: {
                min: tMin, max: tMax,
                afterFit: s => { s.height = 48; },
                afterBuildTicks: fixTicks(tTicks),
                grid: { drawOnChartArea: false, tickLength: 4, tickColor: '#444' },
                border: { display: false },
                ticks: { color: '#2a2a2a', font: { size: 19 }, padding: 1, maxRotation: 0, callback: v => String(v) }
            },
            y: {
                min: cpMin, max: cpMax,
                afterFit: s => { s.width = 69; },
                afterBuildTicks: fixTicks(cpTicks),
                grid: { drawOnChartArea: false, tickLength: 3, tickColor: '#444' },
                border: { display: false },
                ticks: { color: '#2a2a2a', font: { size: 19 }, padding: 3, callback: v => v.toFixed(1) }
            }
        }
    },
    plugins: [boxFrame]
});

new Chart(document.getElementById('geneChart'), {
    type: 'scatter',
    data: {
        datasets: [
            { type: 'line', data: xy(pvalbFitT, pvalbHi), fill: '+1', backgroundColor: 'rgba(120,165,125,0.4)', borderWidth: 0, pointRadius: 0, order: 1 },
            { type: 'line', data: xy(pvalbFitT, pvalbLo), fill: false, borderWidth: 0, pointRadius: 0, order: 1 },
            { type: 'line', data: xy(pvalbFitT, pvalbFit), fill: false, borderColor: '#45b36f', borderWidth: 3, pointRadius: 0, order: 0 },
            { type: 'line', data: xy(calb1FitT, calb1Hi), fill: '+1', backgroundColor: 'rgba(130,150,190,0.4)', borderWidth: 0, pointRadius: 0, order: 1 },
            { type: 'line', data: xy(calb1FitT, calb1Lo), fill: false, borderWidth: 0, pointRadius: 0, order: 1 },
            { type: 'line', data: xy(calb1FitT, calb1Fit), fill: false, borderColor: '#4472b8', borderWidth: 3, pointRadius: 0, order: 0 },
            { data: rowPts(pvalbRows).concat(pts(pvalbExtra)), backgroundColor: '#3fb172', pointRadius: 2.6, pointBorderWidth: 0, order: 2, clip: false },
            { data: rowPts(calb1Rows).concat(pts(calb1Extra)), backgroundColor: '#4673b9', pointRadius: 2.8, pointBorderWidth: 0, order: 3 }
        ]
    },
    options: {
        responsive: false,
        layout: { padding: { top: 15, right: 63 } },
        scales: {
            x: {
                min: -2.26, max: 6.45,
                afterFit: s => { s.height = 43; },
                afterBuildTicks: fixTicks(geneTTicks),
                grid: { drawOnChartArea: false, tickLength: 4, tickColor: '#000', tickWidth: 1.5 },
                border: { display: true, color: '#000', width: 2 },
                ticks: { color: '#1e1e1e', font: { size: 19 }, padding: 1, maxRotation: 0, callback: v => String(v) }
            },
            y: {
                min: 0.217, max: 0.995,
                afterFit: s => { s.width = 64; },
                afterBuildTicks: fixTicks(geneTicks),
                grid: { drawOnChartArea: false, tickLength: 3, tickColor: '#000', tickWidth: 1.5 },
                border: { display: true, color: '#000', width: 2 },
                ticks: { color: '#1e1e1e', font: { size: 19 }, padding: 2, callback: v => v.toFixed(1) }
            }
        }
    }
});
</script>
</body>
</html>
